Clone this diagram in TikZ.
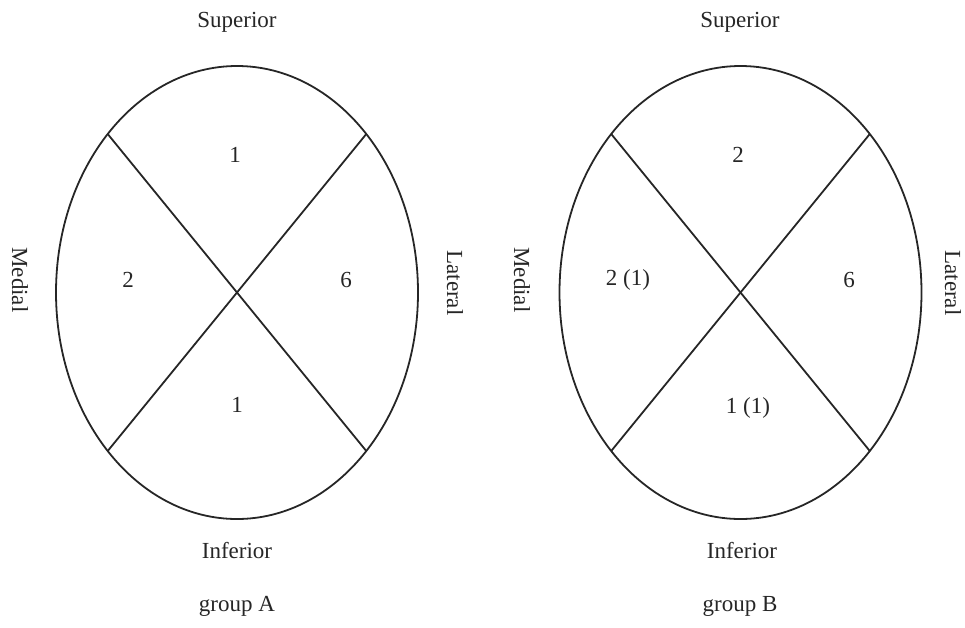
\documentclass[tikz,border=0pt]{standalone}
\usepackage{fontspec}
\setmainfont{Liberation Serif}
\begin{document}
\begin{tikzpicture}[x=1pt,y=-1pt,
  outline/.style={line width=1.8pt,draw=black!85},
  lbl/.style={font=\fontsize{23}{27}\selectfont,text=black!85,inner sep=0pt},
  side/.style={lbl,rotate=-90}]
\useasboundingbox (0,0) rectangle (965,627);
% group A
\draw[outline] (237,292.5) ellipse [x radius=181, y radius=226.5];
\coordinate (a1) at (107.7,134);
\coordinate (a2) at (366.3,451);
\coordinate (a3) at (366.3,134);
\coordinate (a4) at (107.7,451);
\draw[outline] (a1) -- (a2);
\draw[outline] (a3) -- (a4);
\node[lbl] (aS) at (237,22) {Superior};
\node[lbl] (aI) at (237,551) {Inferior};
\node[lbl] (aG) at (237,606) {group A};
\node[side] (aM) at (20,280) {Medial};
\node[side] (aL) at (455,283) {Lateral};
\node[lbl] (a1t) at (235,155) {1};
\node[lbl] (a2t) at (128,280) {2};
\node[lbl] (a6t) at (346,280) {6};
\node[lbl] (a1b) at (237,405) {1};
% group B
\draw[outline] (740.5,292.5) ellipse [x radius=181, y radius=226.5];
\coordinate (b1) at (611.2,134);
\coordinate (b2) at (869.8,451);
\coordinate (b3) at (869.8,134);
\coordinate (b4) at (611.2,451);
\draw[outline] (b1) -- (b2);
\draw[outline] (b3) -- (b4);
\node[lbl] (bS) at (740,22) {Superior};
\node[lbl] (bI) at (742,551) {Inferior};
\node[lbl] (bG) at (740,606) {group B};
\node[side] (bM) at (522,280) {Medial};
\node[side] (bL) at (953,283) {Lateral};
\node[lbl] (b2t) at (738,155) {2};
\node[lbl] (b21) at (628,280) {2 (1)};
\node[lbl] (b6t) at (849,280) {6};
\node[lbl] (b11) at (748,408) {1 (1)};
\end{tikzpicture}
\end{document}
